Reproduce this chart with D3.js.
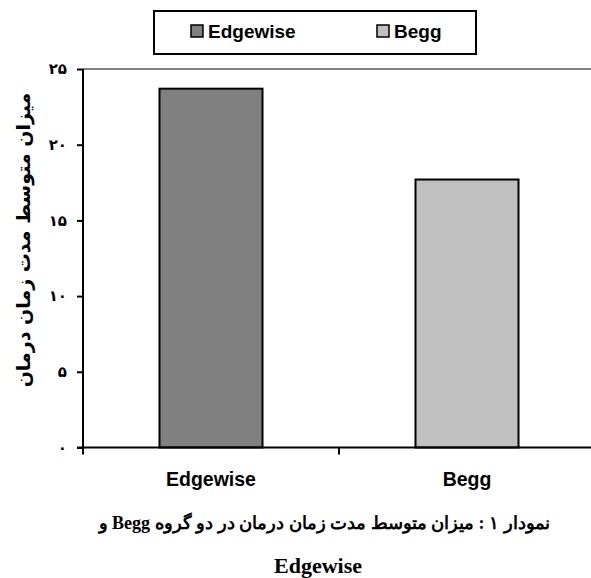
<!DOCTYPE html>
<html>
<head>
<meta charset="utf-8">
<script src="https://cdn.jsdelivr.net/npm/d3@7"></script>
<style>
  body { margin: 0; background: #fff; }
  svg { display: block; }
</style>
</head>
<body>
<svg id="chart" width="591" height="578"></svg>
<script>
const categories = ["Edgewise", "Begg"];
const values = [23.7, 17.7];
const colors = ["#808080", "#C0C0C0"];
const yTicks = [0, 5, 10, 15, 20, 25];
const yTickLabels = ["۰", "۵", "۱۰", "۱۵", "۲۰", "۲۵"];
const yTitle = "میزان متوسط مدت زمان درمان";
const caption1 = "نمودار ۱ : میزان متوسط مدت زمان درمان در دو گروه Begg و";
const caption2 = "Edgewise";

const svg = d3.select("#chart");
const plot = { left: 83, right: 595, top: 69, bottom: 447.5 };

const xb = d3.scaleBand().domain(categories).range([plot.left, plot.right]);
const y = d3.scaleLinear().domain([0, 25]).range([plot.bottom, plot.top]);

// top gray border line
svg.append("line")
  .attr("x1", plot.left).attr("x2", 591)
  .attr("y1", y(25)).attr("y2", y(25))
  .attr("stroke", "#808080").attr("stroke-width", 2);

// bars
svg.selectAll("rect.bar").data(categories).join("rect")
  .attr("class", "bar")
  .attr("x", d => xb(d) + (xb.bandwidth() - 103) / 2)
  .attr("width", 103)
  .attr("y", (d, i) => y(values[i]))
  .attr("height", (d, i) => y(0) - y(values[i]))
  .attr("fill", (d, i) => colors[i])
  .attr("stroke", "#000").attr("stroke-width", 2);

// y axis
const yAxis = d3.axisLeft(y).tickValues(yTicks).tickSize(6).tickPadding(10)
  .tickFormat((d, i) => yTickLabels[i]);
const gy = svg.append("g").attr("transform", `translate(${plot.left},0)`).call(yAxis);
gy.select(".domain").attr("stroke", "#000").attr("stroke-width", 2).attr("d", `M0,${plot.top}V${plot.bottom + 7}`);
gy.selectAll(".tick line").attr("stroke", "#000").attr("stroke-width", 2);
gy.selectAll(".tick text")
  .attr("font-family", "DejaVu Sans, sans-serif").attr("font-weight", "bold")
  .attr("font-size", 15).attr("fill", "#000");

// x axis
const gx = svg.append("g").attr("transform", `translate(0,${plot.bottom})`);
gx.append("line").attr("x1", plot.left - 6).attr("x2", 591)
  .attr("y1", 0).attr("y2", 0).attr("stroke", "#000").attr("stroke-width", 2);
gx.selectAll("line.sep").data(categories.slice(1)).join("line")
  .attr("class", "sep")
  .attr("x1", d => xb(d)).attr("x2", d => xb(d))
  .attr("y1", 0).attr("y2", 7).attr("stroke", "#000").attr("stroke-width", 2);
gx.selectAll("text").data(categories).join("text")
  .attr("x", d => xb(d) + xb.bandwidth() / 2)
  .attr("y", 38)
  .attr("text-anchor", "middle")
  .attr("font-family", "Liberation Sans, Arial, sans-serif").attr("font-weight", "bold")
  .attr("font-size", 19.5).text(d => d);

// y title
svg.append("text")
  .attr("transform", `translate(30,240) rotate(-90)`)
  .attr("text-anchor", "middle").attr("direction", "rtl")
  .attr("font-family", "DejaVu Sans, sans-serif").attr("font-weight", "bold")
  .attr("font-size", 19).text(yTitle);

// legend
const lg = svg.append("g");
lg.append("rect").attr("x", 154).attr("y", 11).attr("width", 322).attr("height", 43)
  .attr("fill", "#fff").attr("stroke", "#000").attr("stroke-width", 2);
const legX = [191, 377];
categories.forEach((c, i) => {
  lg.append("rect").attr("x", legX[i]).attr("y", 25).attr("width", 12).attr("height", 12)
    .attr("fill", colors[i]).attr("stroke", "#000").attr("stroke-width", 1.5);
  lg.append("text").attr("x", legX[i] + 17).attr("y", 38)
    .attr("font-family", "Liberation Sans, Arial, sans-serif").attr("font-weight", "bold")
    .attr("font-size", 19).text(c);
});

// caption
svg.append("text").attr("x", 324).attr("y", 529)
  .attr("text-anchor", "middle").attr("direction", "rtl")
  .attr("font-family", "Liberation Serif, DejaVu Serif, serif").attr("font-weight", "bold")
  .attr("font-size", 18).text(caption1);
svg.append("text").attr("x", 318).attr("y", 573)
  .attr("text-anchor", "middle")
  .attr("font-family", "Liberation Serif, serif").attr("font-weight", "bold")
  .attr("font-size", 22).text(caption2);
</script>
</body>
</html>
